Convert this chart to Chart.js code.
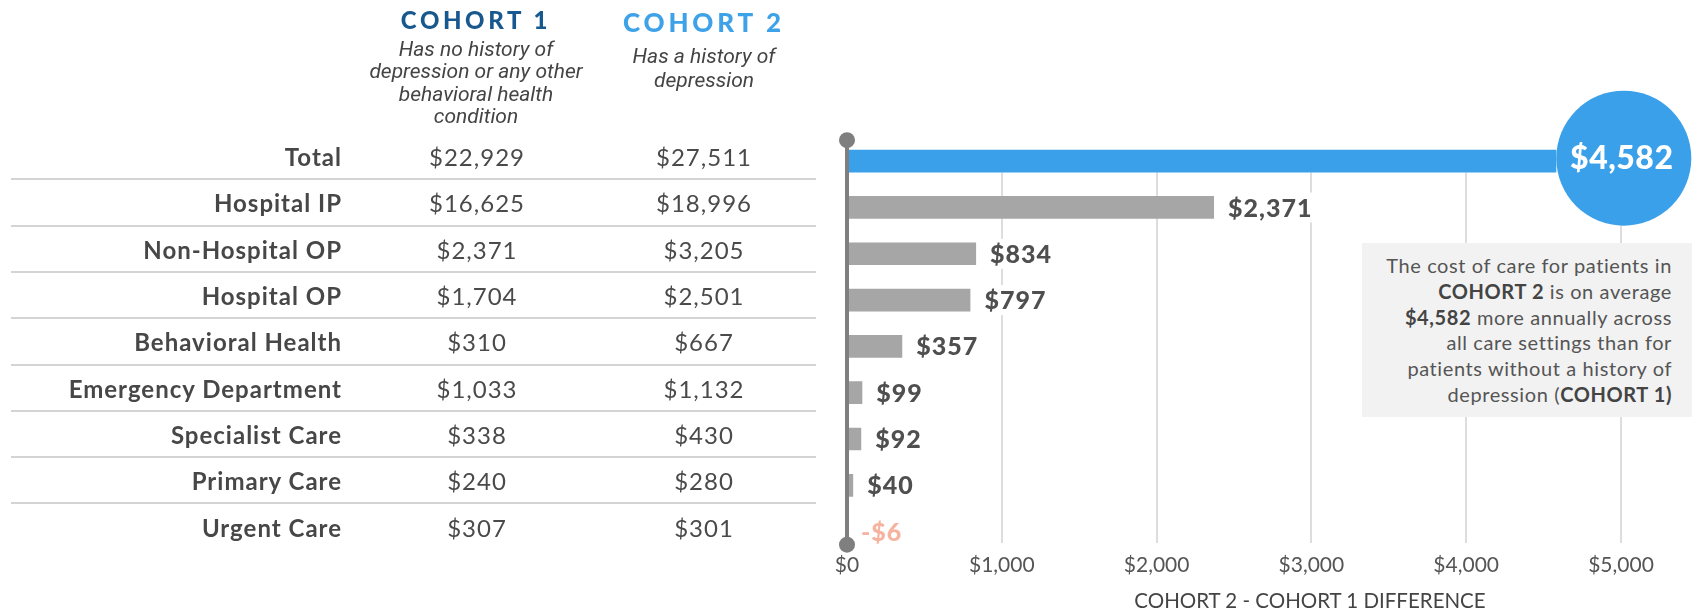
<!DOCTYPE html>
<html>
<head>
<meta charset="utf-8">
<title>Cost of care by cohort</title>
<script src="https://cdn.jsdelivr.net/npm/chart.js@4.4.0/dist/chart.umd.min.js"></script>
<style>
  body { margin: 0; background: #fff; font-family: Lato, sans-serif; color: #4a4a4a; }
  #wrap { position: relative; width: 1698px; height: 611px; overflow: hidden; }
  #diffChart { position: absolute; left: 0; top: 0; }
  .head { position: absolute; width: 260px; text-align: center; }
  .head h2 { margin: 0; font: 900 24px/28px Lato, sans-serif; letter-spacing: 3.6px; }
  .head p { margin: 4px 0 0; font: italic 21px/22.4px Roboto, sans-serif; color: #444; }
  #h1 { left: 346px; top: 6px; }
  #h1 h2 { color: #17588f; }
  #h2 { left: 574px; top: 8px; }
  #h2 h2 { color: #3ea2e8; font-size: 26px; letter-spacing: 3.8px; }
  #h2 p { line-height: 24px; margin-top: 8px; }
  .row { position: absolute; left: 0; width: 820px; height: 30px; line-height: 30px; font-size: 24px; letter-spacing: 1px; }
  .row .name { position: absolute; right: 478px; font-weight: 700; white-space: nowrap; color: #474747; }
  .row .val { position: absolute; width: 180px; text-align: center; color: #4a4a4a; }
  .row .c1 { left: 387px; }
  .row .c2 { left: 614px; }
  .rule { position: absolute; left: 11px; width: 805px; height: 2px; background: #d4d4d4; }
  #note { position: absolute; left: 1362px; top: 243px; width: 310px; height: 164px; padding: 10px 20px 0 0;
          background: #f2f2f2; text-align: right; font-size: 20px; letter-spacing: 0.6px; line-height: 25.8px;
          color: #555; white-space: nowrap; }
  #note b { color: #444; }
  #axisTitle { position: absolute; left: 1110px; top: 588px; width: 400px; text-align: center;
               font-size: 20.5px; line-height: 24px; color: #444; }
</style>
</head>
<body>
<div id="wrap">
  <canvas id="diffChart" width="1698" height="611"></canvas>
  <div class="head" id="h1">
    <h2>COHORT 1</h2>
    <p>Has no history of<br>depression or any other<br>behavioral health<br>condition</p>
  </div>
  <div class="head" id="h2">
    <h2>COHORT 2</h2>
    <p>Has a history of<br>depression</p>
  </div>
  <div id="table"></div>
  <div id="note"></div>
  <div id="axisTitle">COHORT 2 - COHORT 1 DIFFERENCE</div>
</div>
<script>
const categories = ['Total', 'Hospital IP', 'Non-Hospital OP', 'Hospital OP', 'Behavioral Health',
                    'Emergency Department', 'Specialist Care', 'Primary Care', 'Urgent Care'];
const cohort1 = [22929, 16625, 2371, 1704, 310, 1033, 338, 240, 307];
const cohort2 = [27511, 18996, 3205, 2501, 667, 1132, 430, 280, 301];
const difference = [4582, 2371, 834, 797, 357, 99, 92, 40, -6];
const xTicks = [0, 1000, 2000, 3000, 4000, 5000];

const BLUE = '#3ba0ea';
const GREY = '#a6a6a6';
const AXIS = '#7f7f7f';
const GRID = '#dddddd';
const NEG = '#f6b3a0';

const money = v => (v < 0 ? '-$' : '$') + Math.abs(v).toLocaleString('en-US');

// grid lines, value labels, the zero axis and the total bubble
const decor = {
  id: 'decor',
  beforeDatasetsDraw(chart) {
    const {ctx, scales: {x, y}} = chart;
    const half = chart.getDatasetMeta(0).data[0].height / 2;
    const top = y.getPixelForValue(0) + half;
    const bottom = y.getPixelForValue(categories.length - 1) + half;
    ctx.save();
    ctx.strokeStyle = GRID;
    ctx.lineWidth = 2;
    xTicks.filter(v => v > 0).forEach(v => {
      const px = Math.round(x.getPixelForValue(v));
      ctx.beginPath();
      ctx.moveTo(px, top);
      ctx.lineTo(px, bottom);
      ctx.stroke();
    });
    ctx.restore();
  },
  afterDatasetsDraw(chart) {
    const {ctx, scales: {x, y}} = chart;
    const x0 = x.getPixelForValue(0);
    ctx.save();
    ctx.textBaseline = 'middle';
    ctx.font = '900 25px Lato, sans-serif';
    ctx.letterSpacing = '1px';
    difference.forEach((v, i) => {
      if (i === 0) return;
      const cy = y.getPixelForValue(i);
      const lx = Math.max(x.getPixelForValue(v), x0) + 14;
      const txt = money(v);
      const w = ctx.measureText(txt).width;
      ctx.fillStyle = '#fff';
      ctx.fillRect(lx - 4, cy - 15, w + 8, 30);
      ctx.fillStyle = v < 0 ? NEG : '#4f4f4f';
      ctx.fillText(txt, lx, cy + 1);
    });

    // vertical zero line with round end caps
    const yTop = y.getPixelForValue(0) - 21;
    const yBot = y.getPixelForValue(categories.length - 1) + 13;
    ctx.strokeStyle = AXIS;
    ctx.fillStyle = AXIS;
    ctx.lineWidth = 4;
    ctx.beginPath();
    ctx.moveTo(x0, yTop);
    ctx.lineTo(x0, yBot);
    ctx.stroke();
    [yTop, yBot].forEach(py => {
      ctx.beginPath();
      ctx.arc(x0, py, 8, 0, Math.PI * 2);
      ctx.fill();
    });

    // bubble at the end of the total bar
    const r = 67.5;
    const bx = x.getPixelForValue(difference[0]) + r;
    const by = y.getPixelForValue(0) - 3;
    ctx.fillStyle = BLUE;
    ctx.beginPath();
    ctx.arc(bx, by, r, 0, Math.PI * 2);
    ctx.fill();
    ctx.fillStyle = '#fff';
    ctx.textAlign = 'center';
    ctx.font = '900 32px Lato, sans-serif';
    ctx.letterSpacing = '0.5px';
    ctx.fillText(money(difference[0]), bx - 2, by + 1);
    ctx.restore();
  }
};

const chart = new Chart(document.getElementById('diffChart'), {
  type: 'bar',
  data: {
    labels: categories,
    datasets: [{
      data: difference,
      backgroundColor: difference.map((v, i) => i === 0 ? BLUE : GREY),
      categoryPercentage: 1,
      barPercentage: 0.49,
      borderWidth: 0
    }]
  },
  options: {
    indexAxis: 'y',
    responsive: false,
    animation: false,
    events: [],
    layout: { padding: { left: 847, right: 77, top: 138, bottom: 35 } },
    plugins: { legend: { display: false }, tooltip: { enabled: false } },
    scales: {
      y: { display: false, offset: true },
      x: {
        min: 0,
        max: 5000,
        afterBuildTicks: axis => { axis.ticks = xTicks.map(v => ({ value: v })); },
        grid: { display: false, drawTicks: false },
        border: { display: false },
        ticks: {
          padding: -2,
          color: '#555',
          font: { family: 'Lato', size: 21 },
          callback: v => money(v)
        }
      }
    }
  },
  plugins: [decor]
});

// table rows on the left, lined up with the bars
const yScale = chart.scales.y;
const table = document.getElementById('table');
categories.forEach((name, i) => {
  const cy = yScale.getPixelForValue(i) - 4;
  const row = document.createElement('div');
  row.className = 'row';
  row.style.top = (cy - 15) + 'px';
  row.innerHTML = `<span class="name">${name}</span>` +
    `<span class="val c1">${money(cohort1[i])}</span>` +
    `<span class="val c2">${money(cohort2[i])}</span>`;
  table.appendChild(row);
  if (i < categories.length - 1) {
    const rule = document.createElement('div');
    rule.className = 'rule';
    rule.style.top = ((yScale.getPixelForValue(i) + yScale.getPixelForValue(i + 1)) / 2 - 6) + 'px';
    table.appendChild(rule);
  }
});

document.getElementById('note').innerHTML =
  'The cost of care for patients in<br><b>COHORT 2</b> is on average<br>' +
  `<b>${money(difference[0])}</b> more annually across<br>all care settings than for<br>` +
  'patients without a history of<br>depression (<b>COHORT 1)</b>';
</script>
</body>
</html>
